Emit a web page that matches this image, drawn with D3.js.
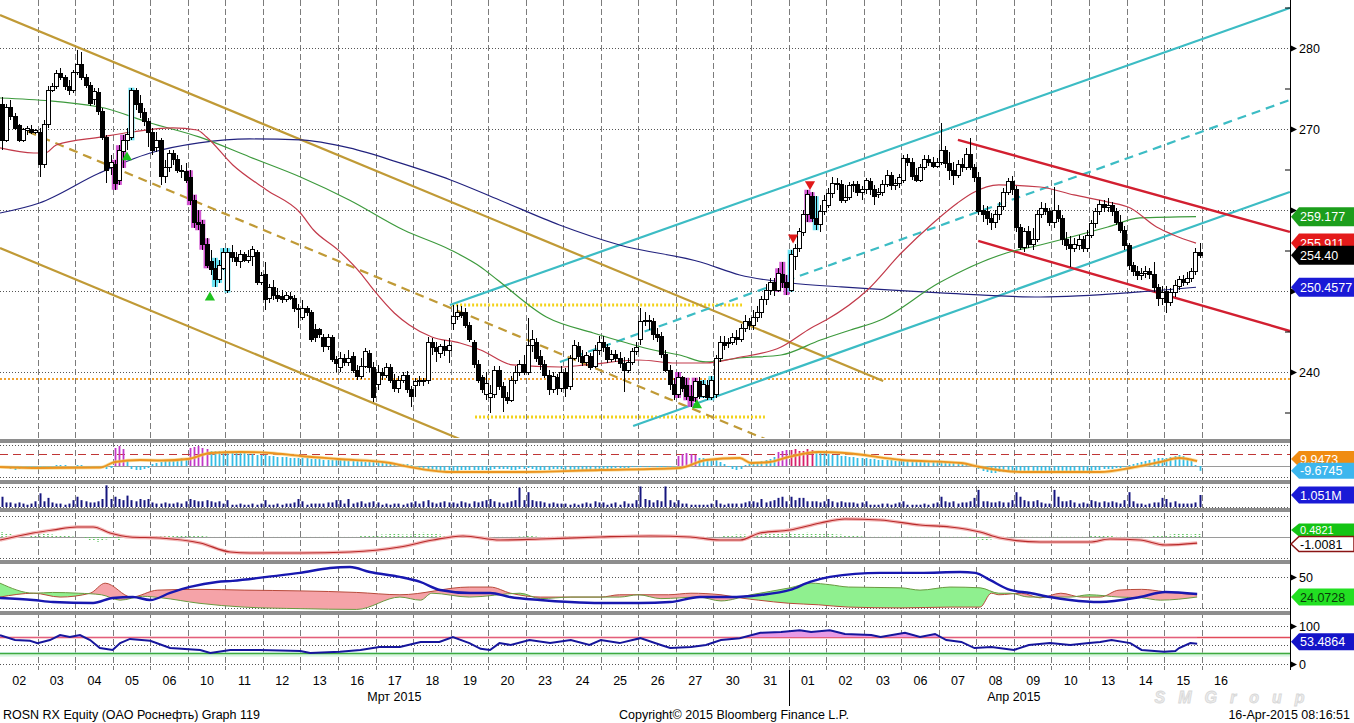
<!DOCTYPE html>
<html>
<head>
<meta charset="utf-8">
<script src="https://cdn.jsdelivr.net/npm/d3@7"></script>
<style>
  body { margin: 0; background: #fff; }
  svg { display: block; font-family: "Liberation Sans", Arial, sans-serif; }
</style>
</head>
<body>
<svg id="chart" width="1354" height="723"></svg>
<script>
// ---- data (ROSN RX, hourly bars) ----
const dayLabels = ['02','03','04','05','06','10','11','12','13','16','17','18','19','20','23','24','25','26','27','30','31',
                   '01','02','03','06','07','08','09','10','13','14','15','16'];
const monthLabels = ['Мрт 2015', 'Апр 2015'];
const monthStarts = [0, 21, 33];
const priceTicks = [240, 250, 260, 270, 280];
const priceHidden = [250, 260];   // labels covered by the value tags
const priceMinor = [235, 245, 255, 265, 275, 285];

// [open, close, high, low], 9 bars per day
const candles = [
  [273.0,268.6,274.0,267.4],[268.6,272.6,273.1,268.4],[272.6,271.5,273.6,271.1],[271.5,270.1,272.0,269.9],[270.4,268.6,270.6,268.4],[268.6,269.9,270.1,268.4],[269.8,270.1,270.4,269.3],[270.0,269.6,270.5,269.4],[269.6,269.8,270.0,269.4],
  [269.6,265.6,270.1,264.1],[265.6,270.5,271.1,265.2],[270.5,274.8,275.3,270.1],[274.8,275.3,275.7,274.6],[275.2,276.9,277.3,274.9],[276.9,276.3,277.5,276.1],[276.3,275.3,276.7,274.8],[275.3,274.8,276.1,274.2],[274.8,277.0,277.3,274.5],
  [277.0,278.0,279.8,276.7],[278.0,276.3,279.5,276.1],[276.3,275.4,276.8,275.1],[275.4,273.2,275.8,272.8],[273.6,274.6,275.1,273.0],[274.5,272.1,275.1,271.7],[272.1,269.0,272.6,268.6],[269.0,264.9,269.3,263.3],[265.2,265.9,266.8,264.3],
  [265.6,263.3,266.2,262.5],[263.7,267.4,268.0,263.1],[267.2,268.6,269.3,265.2],[268.6,269.3,270.1,267.4],[269.0,274.8,275.1,268.6],[274.8,273.0,275.1,272.3],[273.1,272.0,274.2,271.4],[272.0,270.9,272.6,270.4],[270.9,269.6,271.4,267.8],
  [269.6,267.4,270.1,266.8],[267.7,268.6,269.6,267.2],[268.6,264.1,268.9,263.1],[264.1,265.2,266.2,263.3],[265.2,267.0,267.4,264.7],[267.0,266.2,267.4,265.6],[266.2,264.9,266.8,264.6],[264.9,264.7,265.6,264.0],[264.7,263.7,265.8,263.3],
  [264.0,261.2,264.9,260.6],[261.2,258.5,261.9,257.8],[258.5,258.2,260.0,257.5],[258.2,255.7,258.8,255.1],[255.7,253.2,256.5,252.8],[253.6,252.6,255.1,252.0],[252.8,251.4,254.1,250.5],[251.4,253.2,253.8,251.0],[252.8,254.8,255.3,252.6],
  [250.1,254.8,255.3,249.8],[254.8,254.1,255.7,253.6],[254.1,253.6,254.8,253.1],[253.6,254.5,255.1,252.8],[254.5,253.8,254.8,253.6],[253.8,254.3,255.1,253.5],[254.2,255.1,255.6,253.1],[254.8,251.1,255.1,250.7],[251.1,251.9,252.3,250.7],
  [252.0,248.9,253.6,247.7],[249.1,250.4,250.9,248.5],[250.4,249.4,251.4,248.9],[249.5,249.1,250.4,248.6],[249.3,248.9,250.1,248.5],[248.9,249.4,249.9,248.6],[249.3,249.1,249.9,248.9],[249.1,247.9,249.5,247.4],[247.9,247.7,248.4,245.4],
  [246.7,247.9,248.9,246.4],[247.9,247.4,248.2,246.9],[247.4,244.0,247.7,243.7],[245.2,244.2,245.9,243.7],[245.2,244.6,245.4,244.2],[244.2,243.1,244.7,242.5],[243.1,244.2,244.7,242.7],[244.2,241.5,244.6,241.2],[241.5,241.1,242.0,240.0],
  [240.5,241.7,242.5,240.0],[241.7,241.2,242.2,240.7],[241.2,241.7,242.7,240.7],[241.9,240.2,242.5,239.9],[240.2,239.4,240.9,239.0],[239.5,240.7,241.7,239.1],[240.7,242.5,243.0,240.5],[242.3,240.6,242.7,240.0],[240.6,236.8,241.2,236.3],
  [238.4,240.0,240.9,237.8],[239.9,239.6,240.5,239.0],[239.6,240.5,241.1,239.3],[240.5,239.0,241.0,238.6],[239.0,238.0,239.8,237.5],[238.0,239.0,239.5,237.4],[239.0,239.6,240.0,238.6],[239.6,237.8,240.1,237.4],[237.8,237.0,238.3,235.7],
  [238.3,238.8,239.3,236.9],[238.8,239.0,239.5,238.3],[238.8,239.0,239.3,238.3],[239.0,243.7,244.3,238.5],[243.7,243.0,244.2,242.1],[243.0,242.5,243.7,241.2],[242.3,243.1,243.5,241.7],[243.1,242.7,244.0,242.0],[242.7,243.3,244.2,241.1],
  [246.0,246.8,248.3,245.2],[246.8,247.4,248.3,246.4],[247.3,247.0,248.2,246.7],[247.3,245.7,247.9,245.4],[245.7,244.0,246.2,243.7],[243.7,240.9,244.0,240.5],[240.9,239.0,241.5,238.6],[239.3,237.8,239.6,237.4],[237.2,238.6,240.0,236.5],
  [236.9,237.4,238.4,234.9],[237.2,240.2,240.7,236.8],[240.2,238.2,240.7,237.8],[238.2,236.8,238.8,235.1],[236.8,236.5,237.5,236.0],[236.5,239.0,239.5,236.3],[238.9,240.0,240.7,238.5],[240.0,240.9,241.5,239.5],[240.9,240.0,242.1,239.6],
  [240.0,243.3,246.7,239.6],[243.3,244.0,245.2,242.5],[243.7,241.7,244.2,241.2],[241.9,240.9,242.7,240.2],[240.9,239.6,241.5,239.3],[239.6,237.8,240.2,237.2],[237.8,239.4,240.0,237.4],[239.3,238.0,239.8,237.2],[238.0,240.0,240.7,237.5],
  [240.0,238.0,240.5,236.9],[238.2,241.7,242.1,237.8],[241.7,243.3,244.0,241.5],[243.2,241.9,243.7,241.2],[241.9,241.2,242.7,240.7],[241.2,242.0,242.5,240.7],[241.9,240.6,242.3,240.2],[240.7,242.7,243.3,240.5],[242.7,243.7,244.4,242.1],
  [243.7,243.0,244.4,242.5],[243.0,241.5,243.5,241.1],[241.5,242.2,242.7,241.2],[242.2,241.7,242.7,241.2],[241.7,241.1,242.5,240.5],[241.1,240.2,241.9,237.5],[240.2,241.2,241.7,239.9],[241.2,242.5,243.0,240.9],[242.5,243.0,243.7,242.1],
  [244.0,246.2,247.9,243.3],[246.2,246.4,247.4,245.7],[246.4,246.2,247.0,245.2],[246.2,244.6,246.7,244.0],[244.6,244.2,245.4,243.7],[244.4,242.1,244.9,241.7],[242.1,240.2,242.7,240.0],[240.2,238.4,240.9,237.8],[238.4,237.2,239.3,236.5],
  [237.2,239.3,240.0,236.8],[239.3,238.0,239.5,237.5],[238.3,237.0,239.3,236.5],[237.0,236.5,238.4,235.7],[236.8,238.8,239.3,236.3],[238.8,237.0,239.4,236.7],[237.0,238.4,239.0,236.8],[238.3,236.8,239.0,236.5],[236.8,239.0,239.5,236.5],
  [237.2,241.7,242.1,236.8],[241.7,243.7,244.4,241.2],[243.7,243.3,244.4,242.7],[243.5,243.7,244.2,243.0],[243.7,244.2,244.8,243.3],[244.2,244.0,245.2,243.3],[244.0,245.4,245.9,243.7],[245.4,246.2,247.0,244.9],[246.2,245.7,246.7,245.2],
  [245.7,246.7,247.7,245.2],[246.7,247.4,248.2,246.2],[247.4,248.9,249.4,246.7],[248.9,250.1,250.9,248.3],[250.1,251.1,251.6,249.5],[251.0,250.1,251.6,249.4],[250.1,252.1,252.8,249.9],[252.0,251.1,253.6,250.4],[251.1,250.4,252.0,249.5],
  [250.1,254.5,255.1,249.9],[254.2,255.3,255.8,252.6],[255.3,257.3,257.8,254.8],[257.2,259.4,260.0,256.8],[259.4,261.9,262.5,258.5],[261.7,259.0,262.2,258.5],[259.0,258.2,261.7,257.5],[258.2,259.8,260.6,257.3],[259.8,261.2,261.9,259.4],
  [260.6,262.0,262.7,260.3],[262.0,263.3,264.1,261.5],[263.3,263.2,264.0,262.5],[263.2,261.2,263.7,260.9],[261.2,261.6,263.1,260.9],[261.6,263.0,263.5,261.2],[263.0,263.2,263.6,262.2],[263.1,262.2,263.6,261.7],[262.2,262.5,263.0,261.2],
  [262.5,263.6,264.0,262.0],[263.5,262.5,264.0,261.9],[262.5,261.7,263.1,260.6],[261.9,262.2,262.7,261.5],[262.1,263.2,263.7,261.7],[263.2,264.3,264.9,262.8],[264.2,263.0,264.7,262.5],[263.0,263.3,263.8,262.5],[263.3,264.0,264.5,262.7],
  [263.7,266.4,266.8,263.3],[266.4,265.9,266.9,265.4],[265.9,264.1,266.4,263.7],[264.2,263.7,265.2,263.5],[263.7,265.2,265.7,263.5],[265.2,266.2,266.8,264.9],[266.2,265.9,266.8,265.4],[265.9,265.4,266.5,265.2],[265.4,265.9,266.4,265.2],
  [265.9,267.4,270.7,265.6],[267.4,265.8,267.9,265.2],[265.8,264.9,267.2,263.7],[264.9,264.3,265.9,263.1],[264.3,265.6,266.2,264.0],[265.6,265.2,266.4,264.7],[265.2,266.8,267.7,264.9],[266.8,265.2,268.9,264.9],[265.2,264.0,265.7,263.5],
  [264.0,259.8,264.7,259.4],[260.0,259.4,260.6,258.5],[259.8,259.0,260.5,258.2],[259.0,258.5,259.6,257.5],[258.5,259.4,260.0,257.8],[259.4,260.4,261.0,258.8],[260.4,262.2,262.7,260.0],[262.2,263.5,264.0,261.9],[263.5,262.5,264.2,261.9],
  [262.5,257.8,263.0,257.3],[257.8,255.4,258.3,255.1],[255.4,257.3,257.8,254.8],[257.3,255.7,258.0,255.3],[255.7,256.3,257.8,255.1],[256.3,259.4,260.0,256.0],[259.4,260.2,261.0,259.0],[260.2,259.8,260.9,259.4],[259.8,258.5,260.2,258.0],
  [258.5,260.0,262.8,257.8],[260.0,259.0,260.6,258.5],[259.0,256.3,259.4,255.7],[256.3,255.6,257.3,255.1],[255.8,255.3,256.8,253.0],[255.3,255.8,256.5,254.8],[255.6,256.3,256.9,255.1],[256.3,255.3,256.8,254.8],[255.3,256.9,257.5,254.8],
  [256.9,258.3,258.8,256.5],[258.3,259.8,260.3,257.8],[259.8,260.7,261.2,259.4],[260.7,260.3,261.2,259.8],[260.3,260.5,261.5,259.8],[260.5,259.8,261.0,259.3],[259.8,258.5,260.3,258.2],[258.5,257.5,259.4,257.2],[257.5,255.6,258.0,255.1],
  [255.6,253.1,255.9,252.6],[253.1,252.4,253.6,251.9],[252.4,251.9,253.1,251.4],[251.9,252.1,252.8,251.4],[252.1,252.4,253.1,251.6],[252.4,252.0,252.8,251.5],[252.0,250.4,253.6,249.9],[250.4,249.1,250.9,248.2],[249.1,249.8,250.6,248.3],
  [249.9,248.6,250.6,247.3],[248.6,249.8,250.4,248.2],[249.8,250.7,251.4,249.3],[250.6,251.4,251.9,250.1],[251.4,251.1,252.0,250.6],[251.1,251.6,252.4,250.7],[251.6,252.4,252.8,251.1],[252.4,254.8,255.3,252.0],[254.8,254.4,255.9,254.1]
];
const magentaBars = [27,28,29,45,46,47,48,49,162,164,165,166,186,187,188,193,194];
const cyanBars = [31,51,52,53,54,168,170,189,195];
const upMarks = [[3.38, 266.5], [5.59, 249.2], [18.56, 235.9]];
const downMarks = [[21.12, 256.6], [21.57, 263.2]];

// moving averages [day, price]
const redMA = [[0,267.66],[0.9,267.04],[1.2,267.04],[1.5,268.03],[2.7,269.02],[3.5,269.63],[4.6,270.13],[5.25,269.88],[5.5,269.02],[6.2,265.56],[7.1,262.47],[8.0,259.63],[8.35,257.53],[9.0,255.07],[9.6,252.22],[9.95,250.13],[10.5,247.29],[10.9,245.81],[11.5,244.32],[12.25,243.58],[12.8,242.72],[13.65,240.87],[14.9,240.62],[15.6,240.87],[17.0,241.48],[18.0,241.11],[18.8,241.11],[19.6,241.73],[20.8,243.09],[21.6,245.44],[22.0,246.42],[23.1,250.13],[24.0,254.69],[24.85,258.40],[25.5,260.87],[25.9,262.10],[26.6,263.09],[27.7,262.84],[28.6,261.86],[29.5,260.99],[30.1,260.25],[30.8,257.90],[31.25,256.92],[31.85,255.91]];
const greenMA = [[0,273.83],[2.65,272.72],[4.0,270.74],[5.3,269.02],[6.65,266.55],[8.0,264.08],[9.3,261.24],[10.75,257.53],[12.0,255.07],[12.8,252.97],[13.25,251.36],[14.55,246.79],[15.8,244.82],[16.7,243.58],[17.4,242.72],[18.1,242.10],[18.8,241.24],[19.7,241.73],[20.8,242.10],[21.85,243.95],[22.65,245.19],[23.45,246.42],[25.0,250.99],[26.8,254.69],[27.7,255.68],[29.5,257.90],[30.35,259.02],[31.85,259.18]];
const navyMA = [[0,259.63],[1.05,260.87],[2.65,264.57],[4.0,267.04],[5.3,268.28],[6.65,268.77],[8.0,268.65],[9.3,267.66],[10.65,265.81],[12.0,263.71],[13.3,261.24],[14.9,258.15],[16.5,255.68],[18.65,253.58],[19.7,251.98],[21.05,250.99],[22.4,250.50],[25.05,249.76],[27.7,249.26],[30.35,249.88],[31.85,250.46]];

// trend channels [day, price]
const goldUpper = [[0,284.08],[23.52,238.89]];
const goldLower = [[0,255.31],[12.3,231.61]];
const goldMid = [[0,271.11],[20.37,231.73]];
const cyanUpper = [[11.98,248.27],[34.35,284.94]];
const cyanLower = [[16.86,233.34],[34.35,262.23]];
const cyanMid = [[14.91,241.24],[34.35,273.58]];
const redUpper = [[25.51,268.65],[34.35,257.29]];
const redLower = [[26.05,256.18],[34.35,245.06]];
const yellowTop = [[12.04,248.27],[19.76,248.27]];
const yellowBottom = [[12.65,234.45],[20.37,234.45]];
const orangeLevel = [[0,239.14],[34.35,239.14]];

// oscillator histogram (per bar) and its signal line
const oscHist = [
  -2,-4,-6,-8,-6,-4,-4,-2,-2,  -4,-6,-4,-2,2,2,2,0,-2,  2,2,-2,-4,-2,-2,-4,-6,-4,  36,40,34,12,-6,-8,-8,-6,-4,
  4,6,8,10,12,12,14,16,16,  36,38,40,36,34,30,30,30,28,  30,28,28,26,26,24,24,22,22,  22,20,20,18,18,18,16,16,16,
  16,16,14,14,14,12,12,12,12,  12,12,10,10,10,10,8,8,8,  8,8,6,6,6,4,4,4,2,  -2,-4,-6,-8,-10,-10,-12,-10,-8,
  -10,-10,-8,-8,-8,-8,-8,-8,-8,  -8,-6,-6,-6,-6,-8,-8,-6,-6,  -4,-6,-8,-8,-8,-8,-6,-6,-6,  -8,-8,-8,-8,-8,-8,-8,-8,-8,
  -6,-6,-6,-4,-4,-4,-4,-2,-2,  -2,-2,-2,0,-2,-2,-2,-2,-2,  20,24,26,24,22,16,16,14,14,  12,8,4,-2,-6,-8,-6,2,4,
  6,8,10,12,14,18,28,30,32,  32,34,30,30,34,32,30,28,26,  24,22,22,20,20,18,18,16,16,  16,14,14,12,12,12,12,10,10,
  10,10,10,10,8,8,8,8,8,  8,8,6,6,6,4,4,2,2,  -6,-10,-12,-14,-14,-12,-12,-10,-10,  -12,-14,-12,-12,-12,-10,-10,-10,-10,
  -10,-10,-12,-12,-12,-12,-10,-10,-10,  -10,-8,-8,-6,-6,-6,-4,-4,-2,  2,4,6,8,10,12,14,16,16,  16,18,20,22,20,16,10,2,-9.6745
];
const oscHot = [27,28,29,45,46,47,48,49,162,163,164,165,166,186,187,188,189,190,191,192,193,194];
const oscSignal = [[0,-2],[1.07,-4],[2.66,-3],[3.06,8],[3.73,12],[4.3,11],[5.0,14],[5.6,26],[6.4,28],[7.2,26],[8.0,20],[9.0,14],[10.4,6],[10.65,2],[12.0,-12],[13.8,-12],[16.0,-8],[18.1,-4],[18.8,12],[19.7,16],[20.0,6],[20.5,8],[21.0,18],[21.8,28],[22.5,26],[24.0,12],[25.6,6],[26.1,-2],[27.2,-12],[29.3,-12],[30.1,-4],[30.9,8],[31.4,16],[31.88,9.9473]];

// volume per bar, millions
const volume = [
  .9,.4,.4,.3,.4,.3,.2,.3,.5,  1.2,.5,.8,.4,.3,.3,.2,.3,.6,  .9,.6,.5,.4,.4,.5,.7,1.9,.7,  .9,.7,.6,1.0,.6,.5,.7,.6,.7,
  .4,.3,.3,.4,.3,.3,.4,.3,.5,  .7,.6,.5,.5,.6,.5,.4,.5,.3,  .6,.2,.2,.3,.2,.2,.3,.2,.3,  .6,.2,.2,.3,.2,.3,.3,.4,.7,
  .5,.2,.3,.3,.3,.3,.4,.4,.6,  .6,.3,.7,.3,.4,.5,.3,.4,.5,  .4,.2,.3,.2,.3,.3,.2,.3,.4,  .5,.3,.5,.6,.4,.3,.4,.5,.4,
  .4,.3,.5,.4,.3,.5,.4,.5,.6,  .7,.5,.4,.3,.4,.5,.6,1.7,.6,  1.3,.6,.5,.5,.4,.3,.4,.3,.3,  .3,.2,.3,.2,.3,.4,.3,.5,.4,
  .4,.2,.3,.4,.2,.5,.3,.3,.6,  1.8,.7,.6,.4,.6,.5,1.8,.6,.4,  .6,.3,.3,.2,.2,.2,.2,.2,.3,  .6,.3,.2,.3,.3,.3,.3,.4,.5,
  .5,.4,.7,.4,.5,.6,.8,.9,.5,  .9,.6,.8,.8,.5,.5,.5,.4,.5,  .7,.5,.4,.5,.4,.4,.4,.3,.4,  .5,.2,.2,.2,.3,.3,.2,.3,.4,
  .5,.2,.2,.2,.2,.3,.2,.3,.4,  .9,.5,.4,.5,.3,.4,.4,.5,.8,  1.5,.5,.5,.4,.4,.5,.4,.4,.6,  1.3,.9,.6,.5,.5,.6,.4,.3,.3,
  1.5,.9,.5,.5,.6,.4,.3,.4,.3,  .6,.5,.4,.5,.4,.5,.4,.3,.6,  1.3,.5,.3,.3,.2,.3,.4,.4,.8,  .7,.4,.5,.3,.3,.3,.3,.4,1.051
];

// fourth panel: slow line and green histogram
const slowLine = [[0,-0.5],[0.88,0.67],[1.41,1.17],[2.05,1.67],[2.48,1.67],[2.93,0.67],[3.46,0],[4.26,-0.17],[5.33,-1.0],[6.13,-2.5],[6.66,-2.67],[7.99,-2.67],[9.32,-2.5],[10.65,-1.67],[11.53,-0.5],[12.33,0.17],[13.32,-0.5],[14.38,-0.33],[15.98,0],[17.31,0.17],[18.38,0],[19.17,-0.5],[19.71,-0.5],[20.24,0.67],[21.04,1.17],[21.84,2.33],[22.5,3.0],[23.44,2.83],[24.5,2.0],[25.3,1.67],[26.1,0.83],[26.63,-0.17],[27.7,-0.83],[29.03,-0.83],[29.56,-0.33],[30.36,-0.5],[31.03,-1.33],[31.88,-1.0081]];
const slowHist = [
  .8,.6,.5,.3,.2,0,0,.2,.3,  .4,.5,.5,.4,.3,.3,.2,.2,.1,  0,0,-.3,-.5,-.6,-.8,-.6,-.4,-.2,  -.3,-.5,-.2,0,0,0,0,0,0,
  .2,.3,.3,.2,.2,.3,.3,.2,.2,  .3,.3,.2,.2,.1,0,0,0,0,  0,0,0,0,0,0,0,0,0,  0,0,0,0,0,0,0,0,0,
  0,0,0,0,0,0,0,0,0,  0,0,0,0,0,.2,.3,.3,.3,  .3,.4,.4,.5,.5,.5,.4,.4,.4,  .5,.6,.7,.6,.5,.5,.4,.3,.2,
  .2,.1,0,0,0,0,0,0,0,  0,0,0,0,0,0,0,.1,.1,  .2,.2,.1,0,0,0,0,0,0,  .1,.1,.1,.2,.2,.1,0,0,0,
  0,0,0,0,0,0,.1,.1,.1,  .1,0,0,0,0,0,0,0,0,  0,0,0,0,0,0,0,0,0,  0,0,.2,.3,.3,.4,.4,.4,.3,
  .3,.4,.5,.5,.6,.6,.5,.5,.5,  .5,.5,.6,.6,.7,.6,.6,.5,.5,  .5,.5,.4,.4,.3,.3,.2,.2,.1,  0,0,0,0,0,0,0,0,0,
  0,0,0,0,0,0,0,0,0,  0,0,0,0,0,0,0,-.2,-.3,  -.4,-.5,-.5,-.4,-.3,-.2,0,0,0,  0,0,0,0,0,0,0,0,0,
  0,0,0,0,0,0,0,0,0,  .2,.3,.3,.3,.2,.2,0,0,0,  0,0,0,0,0,0,.2,.2,.3,  .3,.4,.5,.5,.6,.5,.4,.5,.4821
];

// DMI panel [day, value]
const adx = [[0,22.8],[0.88,20.2],[1.41,17.6],[2.48,16.3],[3.0,22.8],[3.54,24.1],[4.0,20.2],[4.53,29.3],[5.06,37.1],[5.78,43.6],[6.2,45],[7.11,50.1],[7.99,55.3],[8.79,61.7],[9.32,63.0],[9.85,56.5],[10.65,50.1],[11.19,43.6],[11.72,33.2],[12.52,29.3],[13.05,29.3],[13.58,24.1],[14.38,20.2],[15.18,17.6],[15.98,16.3],[17.04,16.3],[17.84,17.6],[18.64,24.1],[19.44,24.1],[20.24,26.7],[21.04,33.2],[21.57,43.6],[22.1,50.1],[23.44,55.3],[24.5,55.3],[25.57,56.5],[25.97,55.3],[26.36,46.2],[26.9,33.2],[27.43,29.3],[27.96,24.1],[28.5,20.2],[29.29,17.6],[30.36,24.1],[31.03,30.6],[31.88,28]];
const diPlus = [[0,42],[0.9,29],[1.4,30],[2.1,29],[2.7,27],[3.2,20],[3.8,25],[4.3,23],[5.3,16],[6.5,11],[8,9],[9.5,8],[10.65,24],[11.2,20],[11.5,29],[12.5,24],[13.85,29],[14.4,22],[15.2,24],[16.5,24],[17.0,27],[17.6,22],[18.6,24],[19.2,19],[20,27],[21.04,36],[21.6,42],[22.1,40],[22.6,37],[24,36],[24.5,33],[25.3,37],[26.1,36],[26.6,29],[26.9,29],[27.4,24],[28.5,24],[29.0,27],[29.8,24],[30.4,23],[30.9,20],[31.88,24.0728]];
const diMinus = [[0,24],[0.9,29],[1.6,24],[2.4,29],[2.8,42],[3.5,24],[4.2,33],[5.3,34],[6.5,33],[8.0,32],[9.5,30],[10.65,27],[12.5,37],[13.05,37],[13.6,29],[14.4,24],[16,24],[16.5,27],[17.8,27],[18.4,29],[19.2,27],[19.7,23],[20.2,20],[21.0,16],[21.8,14],[22.6,11],[24.0,10],[25.3,11],[26.1,11],[26.4,29],[26.6,27],[27.2,29],[27.7,23],[28.25,29],[28.8,24],[29.3,24],[29.8,33],[30.4,34],[31.0,31],[31.4,29],[31.88,27]];

// RSI [day, value]
const rsi = [[0,76],[0.4,63],[0.8,61],[1.0,55],[1.33,63],[1.6,76],[1.86,71],[2.13,76],[2.4,63],[2.66,42],[3.0,37],[3.2,55],[3.46,66],[4.0,61],[4.53,42],[5.33,37],[5.6,29],[6.13,37],[6.9,37],[8.0,34],[8.26,29],[9.05,32],[9.6,37],[10.1,45],[10.65,45],[11.2,58],[11.7,58],[12.06,71],[12.5,55],[12.8,40],[13.05,37],[13.3,55],[13.6,50],[14.1,63],[14.65,55],[15.2,63],[15.7,50],[16.0,63],[16.5,55],[17.05,68],[17.6,50],[17.85,42],[18.4,45],[18.8,50],[19.2,63],[19.7,68],[20.25,82],[20.8,84],[21.3,89],[21.6,84],[22.1,89],[22.5,79],[23.2,76],[23.45,71],[24.1,82],[24.5,71],[24.9,79],[25.2,63],[25.6,58],[25.95,42],[26.4,45],[27.0,37],[27.4,50],[27.96,55],[28.5,50],[29.0,55],[29.3,58],[29.6,63],[30.1,55],[30.4,37],[31.0,32],[31.3,34],[31.4,42],[31.7,55],[31.88,53.4864]];

// ---- drawing ----
const svg = d3.select("#chart");
const AX = 1290;
const x = d3.scaleLinear().domain([0, 33]).range([0, 1239.2]);
const bx = i => x((i + 0.5) / 9);
const yMain = d3.scaleLinear().domain([235, 280]).range([412.5, 48]);
const yOsc = d3.scaleLinear().domain([0, 24]).range([466, 454]);
const yVol = d3.scaleLinear().domain([0, 2]).range([507, 484.2]);
const yP4 = d3.scaleLinear().domain([0, 1]).range([537, 531]);
const yDmi = d3.scaleLinear().domain([0, 50]).range([615.6, 577]);
const yRsi = d3.scaleLinear().domain([0, 100]).range([664, 626]);
const px = v => Math.round(v) + 0.5;

const defs = svg.append("defs");
defs.append("clipPath").attr("id", "clipMain").append("rect").attr("width", AX).attr("height", 438);

// vertical day separators
svg.append("g").selectAll("line").data(d3.range(1, 33)).join("line")
  .attr("x1", k => px(x(k))).attr("x2", k => px(x(k)))
  .attr("y1", 0).attr("y2", 670)
  .attr("stroke", "#7c7c7c").attr("stroke-dasharray", "6,3");

// horizontal dotted grid
function hDots(yv) {
  svg.append("line").attr("x1", 0).attr("x2", AX).attr("y1", px(yv)).attr("y2", px(yv))
    .attr("stroke", "#555").attr("stroke-dasharray", "1,2");
}
priceTicks.forEach(p => hDots(yMain(p)));
[yOsc(42), yOsc(-22), yVol(1.75), yVol(0), yP4(3.5), yP4(-3.5), yDmi(50), yDmi(10), yRsi(100), yRsi(50), yRsi(0)].forEach(hDots);

// panel separators
svg.append("g").selectAll("rect").data([439, 480, 508, 560, 611]).join("rect")
  .attr("x", 0).attr("y", d => d).attr("width", AX).attr("height", 4).attr("fill", "#8e8e8e");

// ---- main panel ----
const main = svg.append("g").attr("clip-path", "url(#clipMain)");
const lineP = d3.line().x(d => x(d[0])).y(d => yMain(d[1]));
function seg(data, color, w, dash) {
  main.append("path").attr("d", lineP(data)).attr("fill", "none")
    .attr("stroke", color).attr("stroke-width", w).attr("stroke-dasharray", dash || null);
}
seg(orangeLevel, "#f2a230", 2, "2,2");
seg(yellowTop, "#f2d21a", 3, "2,2");
seg(yellowBottom, "#f2d21a", 3, "2,2");
seg(goldUpper, "#c09a36", 2.2);
seg(goldLower, "#c09a36", 2.2);
seg(goldMid, "#c09a36", 2.2, "9,6");
seg(cyanUpper, "#3cbcc4", 2.2);
seg(cyanLower, "#3cbcc4", 2.2);
seg(cyanMid, "#3cbcc4", 2.2, "9,6");
seg(redUpper, "#d21f30", 2.4);
seg(redLower, "#d21f30", 2.4);

const maLine = d3.line().x(d => x(d[0])).y(d => yMain(d[1])).curve(d3.curveMonotoneX);
main.append("path").attr("d", maLine(navyMA)).attr("fill", "none").attr("stroke", "#22227e").attr("stroke-width", 1.2);
main.append("path").attr("d", maLine(greenMA)).attr("fill", "none").attr("stroke", "#3d9a3d").attr("stroke-width", 1.2);
main.append("path").attr("d", maLine(redMA)).attr("fill", "none").attr("stroke", "#c23a4a").attr("stroke-width", 1.2);

// highlighted bars
const hl = main.append("g");
hl.selectAll(".m").data(magentaBars).join("rect")
  .attr("x", i => bx(i) - 3).attr("width", 6)
  .attr("y", i => yMain(candles[i][2])).attr("height", i => yMain(candles[i][3]) - yMain(candles[i][2]))
  .attr("fill", "#cc44cc").attr("opacity", 0.9);
hl.selectAll(".c").data(cyanBars).join("rect")
  .attr("x", i => bx(i) - 3).attr("width", 6)
  .attr("y", i => yMain(candles[i][2])).attr("height", i => yMain(candles[i][3]) - yMain(candles[i][2]))
  .attr("fill", "#5ee0f2").attr("opacity", 0.9);

// candles
const cg = main.append("g").attr("shape-rendering", "crispEdges");
cg.selectAll("line").data(candles).join("line")
  .attr("x1", (d, i) => Math.round(bx(i)) + 0.5).attr("x2", (d, i) => Math.round(bx(i)) + 0.5)
  .attr("y1", d => yMain(d[2])).attr("y2", d => yMain(d[3]))
  .attr("stroke", "#000");
cg.selectAll("rect").data(candles).join("rect")
  .attr("x", (d, i) => Math.round(bx(i)) - 1.5).attr("width", 4)
  .attr("y", d => yMain(Math.max(d[0], d[1])))
  .attr("height", d => Math.max(1, Math.abs(yMain(d[0]) - yMain(d[1]))))
  .attr("fill", d => d[1] >= d[0] ? "#fff" : "#000")
  .attr("stroke", "#000").attr("stroke-width", 1);

// signal triangles
main.selectAll(".up").data(upMarks).join("path")
  .attr("d", d3.symbol(d3.symbolTriangle, 45))
  .attr("transform", d => `translate(${x(d[0])},${yMain(d[1])})`)
  .attr("fill", "#1fc21f");
main.selectAll(".dn").data(downMarks).join("path")
  .attr("d", d3.symbol(d3.symbolTriangle, 45))
  .attr("transform", d => `translate(${x(d[0])},${yMain(d[1])}) rotate(180)`)
  .attr("fill", "#e01818");

// ---- panel 2: oscillator ----
svg.append("line").attr("x1", 0).attr("x2", AX).attr("y1", px(yOsc(0))).attr("y2", px(yOsc(0))).attr("stroke", "#9a9a9a");
svg.append("line").attr("x1", 0).attr("x2", AX).attr("y1", px(yOsc(24))).attr("y2", px(yOsc(24)))
  .attr("stroke", "#c03636").attr("stroke-dasharray", "8,5");
svg.append("g").selectAll("line").data(oscHist).join("line")
  .attr("x1", (d, i) => px(bx(i))).attr("x2", (d, i) => px(bx(i)))
  .attr("y1", yOsc(0)).attr("y2", d => yOsc(d))
  .attr("stroke", (d, i) => oscHot.includes(i) ? (i >= 189 ? "#d8206a" : "#c238c8") : "#34bde6")
  .attr("stroke-width", 1.8);
const oscLine = d3.line().x(d => x(d[0])).y(d => yOsc(d[1])).curve(d3.curveMonotoneX);
svg.append("path").attr("d", oscLine(oscSignal)).attr("fill", "none").attr("stroke", "#f2ce70").attr("stroke-width", 3.5).attr("opacity", 0.6);
svg.append("path").attr("d", oscLine(oscSignal)).attr("fill", "none").attr("stroke", "#ec9420").attr("stroke-width", 1.8);

// ---- panel 3: volume ----
svg.append("g").selectAll("line").data(volume).join("line")
  .attr("x1", (d, i) => px(bx(i))).attr("x2", (d, i) => px(bx(i)))
  .attr("y1", yVol(0)).attr("y2", d => yVol(d))
  .attr("stroke", "#16167e").attr("stroke-width", 2);

// ---- panel 4 ----
svg.append("line").attr("x1", 0).attr("x2", AX).attr("y1", px(yP4(0))).attr("y2", px(yP4(0))).attr("stroke", "#9a9a9a");
svg.append("g").selectAll("line").data(slowHist).join("line")
  .attr("x1", (d, i) => bx(i)).attr("x2", (d, i) => bx(i))
  .attr("y1", yP4(0)).attr("y2", d => yP4(d))
  .attr("stroke", "#62c462").attr("stroke-width", 1.6).attr("stroke-dasharray", "1,1");
const p4Line = d3.line().x(d => x(d[0])).y(d => yP4(d[1])).curve(d3.curveMonotoneX);
svg.append("path").attr("d", p4Line(slowLine)).attr("fill", "none").attr("stroke", "#f4b8b8").attr("stroke-width", 3.5);
svg.append("path").attr("d", p4Line(slowLine)).attr("fill", "none").attr("stroke", "#b82a2a").attr("stroke-width", 1.2);

// ---- panel 5: DMI ----
const dmiX = d => x(d[0]);
const curve = d3.curveMonotoneX;
defs.append("clipPath").attr("id", "belowRed").append("path")
  .attr("d", d3.area().x(dmiX).y0(611).y1(d => yDmi(d[1])).curve(curve)(diMinus));
defs.append("clipPath").attr("id", "aboveRed").append("path")
  .attr("d", d3.area().x(dmiX).y0(564).y1(d => yDmi(d[1])).curve(curve)(diMinus));
svg.append("path").attr("clip-path", "url(#belowRed)")
  .attr("d", d3.area().x(dmiX).y0(d => yDmi(d[1])).y1(564).curve(curve)(diPlus))
  .attr("fill", "#f5a3a8");
svg.append("path").attr("clip-path", "url(#aboveRed)")
  .attr("d", d3.area().x(dmiX).y0(d => yDmi(d[1])).y1(611).curve(curve)(diPlus))
  .attr("fill", "#8ff08f");
const dmiLine = d3.line().x(dmiX).y(d => yDmi(d[1])).curve(curve);
svg.append("path").attr("d", dmiLine(diMinus)).attr("fill", "none").attr("stroke", "#b84a3a").attr("stroke-width", 1);
svg.append("path").attr("d", dmiLine(diPlus)).attr("fill", "none").attr("stroke", "#6a9a40").attr("stroke-width", 1);
svg.append("path").attr("d", dmiLine(adx)).attr("fill", "none").attr("stroke", "#1818b0").attr("stroke-width", 2.4);

// ---- panel 6: RSI ----
svg.append("rect").attr("x", 0).attr("width", AX).attr("y", yRsi(30)).attr("height", 4).attr("fill", "#d8f6e0");
svg.append("line").attr("x1", 0).attr("x2", AX).attr("y1", px(yRsi(70))).attr("y2", px(yRsi(70))).attr("stroke", "#e24a5a").attr("stroke-width", 1.4);
svg.append("line").attr("x1", 0).attr("x2", AX).attr("y1", px(yRsi(30))).attr("y2", px(yRsi(30))).attr("stroke", "#3faa3f").attr("stroke-width", 1.4);
defs.append("clipPath").attr("id", "over70").append("rect").attr("width", AX).attr("y", 600).attr("height", yRsi(70) - 600);
defs.append("clipPath").attr("id", "under30").append("rect").attr("width", AX).attr("y", yRsi(30)).attr("height", 680 - yRsi(30));
const rsiX = d => x(d[0]);
svg.append("path").attr("clip-path", "url(#over70)")
  .attr("d", d3.area().x(rsiX).y0(yRsi(70)).y1(d => yRsi(d[1]))(rsi)).attr("fill", "#e79ae6");
svg.append("path").attr("clip-path", "url(#under30)")
  .attr("d", d3.area().x(rsiX).y0(yRsi(30)).y1(d => yRsi(d[1]))(rsi)).attr("fill", "#9fe6f6");
svg.append("path").attr("d", d3.line().x(rsiX).y(d => yRsi(d[1]))(rsi))
  .attr("fill", "none").attr("stroke", "#16169c").attr("stroke-width", 2);

// ---- right axis ----
svg.append("line").attr("x1", AX + 0.5).attr("x2", AX + 0.5).attr("y1", 0).attr("y2", 670).attr("stroke", "#000");
function rightAxis(scale, values, hidden) {
  const a = svg.append("g").attr("transform", `translate(${AX},0)`)
    .call(d3.axisRight(scale).tickValues(values).tickSize(0).tickPadding(9)
      .tickFormat(d => (hidden || []).includes(d) ? "" : d3.format("d")(d)));
  a.select(".domain").remove();
  a.selectAll("text").attr("font-size", 12.5).attr("font-family", "Liberation Sans, Arial, sans-serif").attr("fill", "#000");
  a.selectAll(".tick").append("path").attr("d", "M0,-3.5L7,0L0,3.5Z").attr("fill", "#000");
}
rightAxis(yMain, priceTicks, priceHidden);
rightAxis(yDmi, [50]);
rightAxis(yRsi, [0, 100]);
const minor = svg.append("g").attr("transform", `translate(${AX},0)`)
  .call(d3.axisLeft(yMain).tickValues(priceMinor).tickSize(5).tickFormat(""));
minor.select(".domain").remove();

// value tags
function tag(cy, text, fill, color, h, stroke, fs) {
  const g = svg.append("g");
  g.append("path")
    .attr("d", `M${AX + 1},${cy} L${AX + 9},${cy - h / 2} H1354 V${cy + h / 2} H${AX + 9} Z`)
    .attr("fill", fill).attr("stroke", stroke || "none").attr("stroke-width", stroke ? 1.5 : 0);
  g.append("text").attr("x", AX + 10).attr("y", cy).attr("dy", "0.36em")
    .attr("font-size", fs || 12.5).attr("fill", color).text(text);
}
tag(yMain(259.177), "259.177", "#1c9e1c", "#fff", 19);
tag(yMain(255.911), "255.911", "#e41a1a", "#fff", 19);
tag(yMain(254.40), "254.40", "#000", "#fff", 19);
tag(yMain(250.4577), "250.4577", "#1a1ad6", "#fff", 19);
tag(yOsc(9.9473) - 2, "9.9473", "#f08c12", "#fff", 16);
tag(yOsc(-9.6745), "-9.6745", "#3cb6ee", "#fff", 16);
tag(yVol(1.051), "1.051M", "#1a1ad6", "#fff", 17);
tag(yP4(0.4821) - 4, "0.4821", "#14c414", "#fff", 13, null, 11);
tag(yP4(-1.0081) + 1, "-1.0081", "#fff", "#000", 15, "#8a1414");
tag(yDmi(24.0728), "24.0728", "#22e022", "#0a3a0a", 17);
tag(yRsi(53.4864) - 2, "53.4864", "#1414c8", "#fff", 17);

// ---- time axis ----
const xa = svg.append("g").attr("transform", "translate(0,670)")
  .call(d3.axisBottom(x).tickValues(dayLabels.map((d, i) => i + 0.5)).tickSize(0).tickPadding(6)
    .tickFormat((d, i) => dayLabels[i]));
xa.select(".domain").remove();
xa.selectAll("text").attr("font-size", 12.5).attr("font-family", "Liberation Sans, Arial, sans-serif").attr("fill", "#000");
svg.selectAll(".month").data(monthLabels).join("text")
  .attr("x", (d, i) => x((monthStarts[i] + monthStarts[i + 1]) / 2)).attr("y", 701)
  .attr("text-anchor", "middle").attr("font-size", 12.5).text(d => d);
svg.append("line").attr("x1", px(x(21))).attr("x2", px(x(21))).attr("y1", 670).attr("y2", 706).attr("stroke", "#000");

// watermark and footer
svg.append("text").attr("x", 1236).attr("y", 703).attr("text-anchor", "middle")
  .attr("font-size", 16).attr("font-style", "italic").attr("font-weight", "bold")
  .attr("fill", "#ececec").attr("stroke", "#d8d8d8").attr("stroke-width", 0.8)
  .attr("letter-spacing", 13).text("SMGroup");
svg.append("text").attr("x", 3).attr("y", 719).attr("font-size", 12.5).text("ROSN RX Equity (OAO Роснефть) Graph 119");
svg.append("text").attr("x", 734).attr("y", 719).attr("text-anchor", "middle").attr("font-size", 12.5).text("Copyright© 2015 Bloomberg Finance L.P.");
svg.append("text").attr("x", 1350).attr("y", 719).attr("text-anchor", "end").attr("font-size", 12.5).text("16-Apr-2015 08:16:51");
</script>
</body>
</html>
